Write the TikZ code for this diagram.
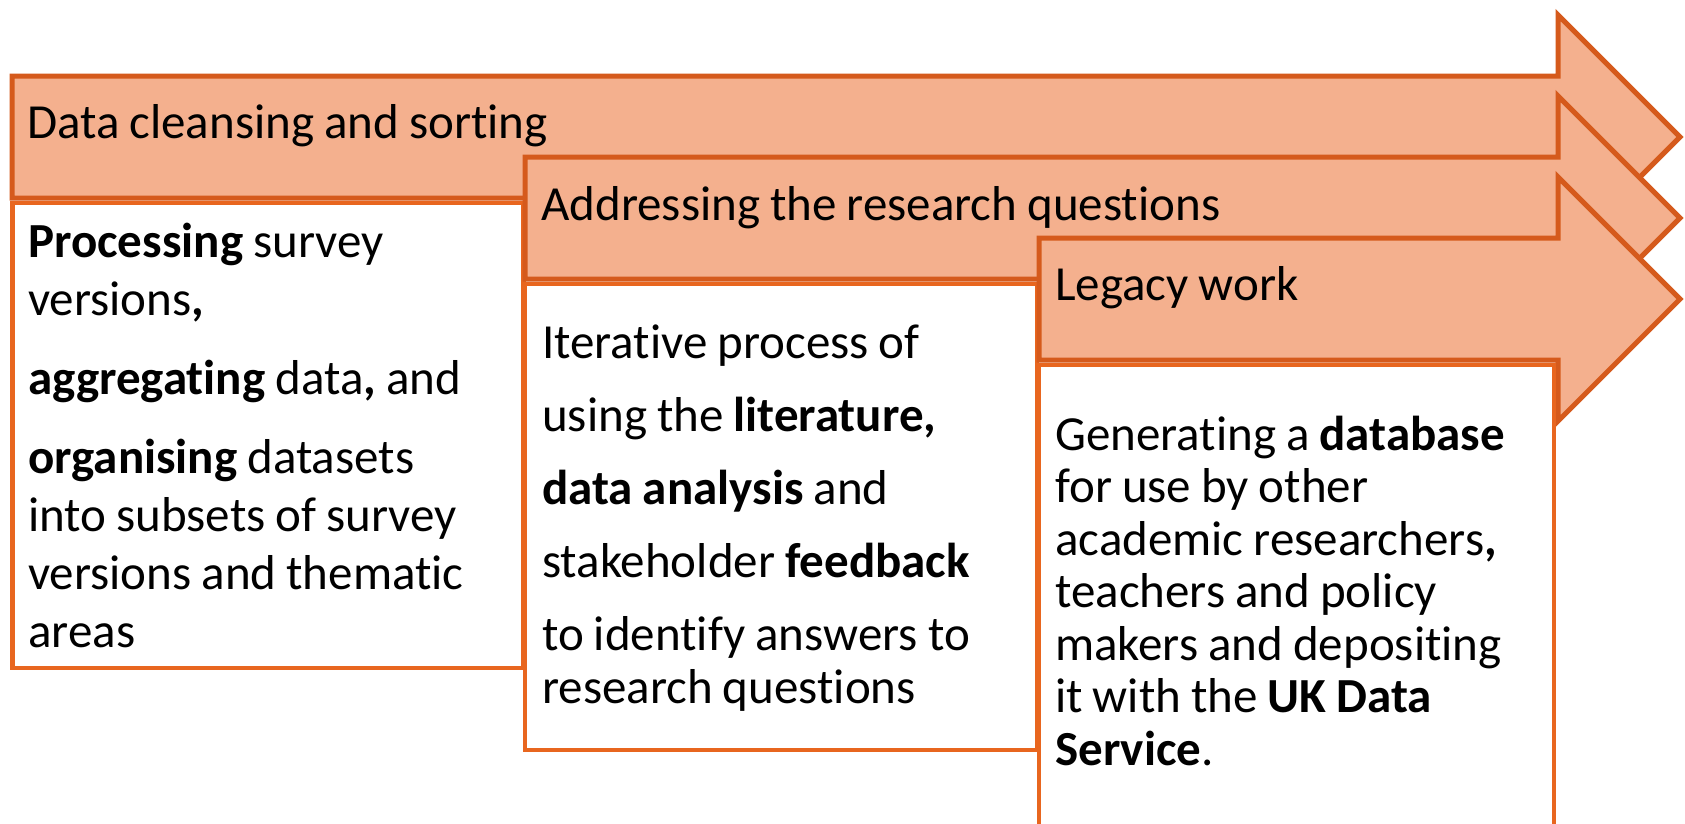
\documentclass[tikz,border=0pt]{standalone}
\usepackage{fontspec}
\setmainfont{Carlito}[WordSpace=0.9,Ligatures=NoCommon]
\definecolor{salmonfill}{HTML}{F4B08E}
\definecolor{arrowline}{HTML}{D55A1C}
\definecolor{boxline}{HTML}{E8661F}
\newcommand{\bigarrow}[3]{% name, left x, top y
  \filldraw[arrowshape] (#2,#3) coordinate (#1-nw) -- (1558,#3) -- (1558,#3-61) -- (1680,#3+61) coordinate (#1-tip)
    -- (1558,#3+183) -- (1558,#3+122) -- (#2,#3+122) coordinate (#1-sw) -- cycle;}
\begin{document}
\begin{tikzpicture}[x=1pt,y=-1pt,
  arrowshape/.style={fill=salmonfill,draw=arrowline,line width=5pt,line join=miter},
  boxshape/.style={fill=white,draw=boxline,line width=4.5pt},
  titletext/.style={anchor=base west,inner sep=0pt,font=\fontsize{49}{58}\selectfont},
  bodytext/.style={anchor=north west,inner sep=0pt,text width=505pt,align=flush left}]
\useasboundingbox (0,0) rectangle (1685,823);
\clip (0,0) rectangle (1685,823);
\fill[white] (0,0) rectangle (1685,823);

% stage 1
\bigarrow{a1}{12}{76}
\filldraw[boxshape] (12.5,203) rectangle (523.5,668);
\node[titletext] (t1) at (27,138) {Data cleansing and sorting};
\node[bodytext,font=\fontsize{49}{58}\selectfont] (b1) at (28,217) {\rule{0pt}{40pt}\textbf{Processing} survey\\
versions\textbf{,}\\[21pt]
\textbf{aggregating} data\textbf{,} and\\[21pt]
\textbf{organising} datasets\\
into subsets of survey\\
versions and thematic\\
areas};

% stage 2
\bigarrow{a2}{525}{157}
\filldraw[boxshape] (525,284) rectangle (1037,750);
\node[titletext] (t2) at (541,220) {Addressing the research questions};
\node[bodytext,font=\fontsize{49}{53}\selectfont] (b2) at (542,318) {\rule{0pt}{40pt}Iterative process of\\[20pt]
using the \textbf{literature,}\\[20pt]
\textbf{data analysis} and\\[20pt]
stakeholder \textbf{feedback}\\[20pt]
to identify answers to\\
research questions};

% stage 3
\bigarrow{a3}{1039}{238}
\filldraw[boxshape] (1039,365) rectangle (1554,850);
\node[titletext] (t3) at (1055,300) {Legacy work};
\node[bodytext,font=\fontsize{49}{52.5}\selectfont] (b3) at (1055,410) {\rule{0pt}{40pt}Generating a \textbf{database}\\
for use by other\\
academic researchers\textbf{,}\\
teachers and policy\\
makers and depositing\\
it with the \textbf{UK Data}\\
\textbf{Service}.};
\end{tikzpicture}
\end{document}
